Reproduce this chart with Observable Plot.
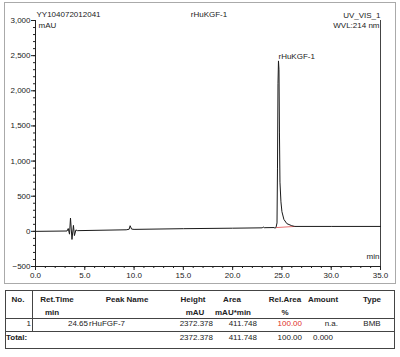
<!DOCTYPE html>
<html><head><meta charset="utf-8">
<script src="https://cdn.jsdelivr.net/npm/d3@7"></script>
<script src="https://cdn.jsdelivr.net/npm/@observablehq/plot@0.6"></script>
<style>
body{margin:0;background:#fff;font-family:"Liberation Sans",Arial,sans-serif;}
#wrap{position:relative;width:400px;height:357px;overflow:hidden;}
#box{position:absolute;left:4px;top:2px;width:390px;height:280px;border:1px solid #aaa;}
#chart{position:absolute;left:0;top:0;}
.t{position:absolute;font-size:8px;color:#222;white-space:nowrap;line-height:10px;}
.b{font-weight:bold;}
.hl{position:absolute;height:1px;background:#444;}
.vl{position:absolute;width:1px;background:#444;}
</style>
</head><body>
<div id="wrap"><div id="box"></div><div id="chart"></div><div id="table"></div></div>
<script>
// ---- chromatogram data (retention time in min, signal in mAU) ----
const timeMin   = [0, 3.2, 3.32, 3.45, 3.55, 3.7, 3.85, 3.95, 4.1, 4.25, 9.2, 9.5, 9.6, 9.75, 10.0, 15.0, 20.0, 23.0, 23.1, 23.2, 24.2, 24.3, 24.4, 24.5, 24.55, 24.6, 24.65, 24.7, 24.75, 24.8, 24.9, 25.0, 25.2, 25.5, 26.0, 26.3, 30.0, 35.0];
const signalMAU = [0, 5, 40, -40, 190, -115, 85, -60, 20, 10, 22, 30, 80, 32, 28, 38, 45, 50, 62, 52, 54, 45, 56, 120, 900, 2100, 2425, 2300, 1400, 700, 420, 280, 170, 110, 80, 70, 70, 70];
const integTime = [24.45, 26.3];
const integMAU  = [54, 70];
const peakName = "rHuKGF-1", peakTime = 24.65, peakTop = 2425;
const yMajor = [-500, 0, 500, 1000, 1500, 2000, 2500, 3000];
const yMinor = d3.range(-500, 3001, 100);
const xMajor = [0, 5, 10, 15, 20, 25, 30, 35];
const xMinor = d3.range(0, 35.01, 1);
const sampleId = "YY104072012041", sampleName = "rHuKGF-1", channel = "UV_VIS_1", wavelength = "WVL:214 nm";
const yUnit = "mAU", xUnit = "min";
// ---- table data ----
const tableCols  = ["No.", "Ret.Time", "Peak Name", "Height", "Area", "Rel.Area", "Amount", "Type"];
const tableUnits = ["", "min", "", "mAU", "mAU*min", "%", "", ""];
const row1       = ["1", "24.65", "rHuFGF-7", "2372.378", "411.748", "100.00", "n.a.", "BMB"];
const totalRow   = ["Total:", "", "", "2372.378", "411.748", "100.00", "0.000", ""];

const data = timeMin.map((t, i) => ({t, v: signalMAU[i]}));
const integ = integTime.map((t, i) => ({t, v: integMAU[i]}));

const chart = Plot.plot({
  width: 400, height: 290,
  marginLeft: 35, marginRight: 20, marginTop: 20, marginBottom: 24,
  style: {fontFamily: "Liberation Sans, Arial, sans-serif", fontSize: "8px", color: "#222", background: "transparent"},
  x: {domain: [0, 35]},
  y: {domain: [-500, 3000]},
  marks: [
    Plot.axisY({ticks: yMinor, tickSize: 2, tickFormat: () => "", label: null, stroke: "#222"}),
    Plot.axisY({ticks: yMajor, tickSize: 4, tickPadding: 1, tickFormat: d3.format(","), label: null, stroke: "#222"}),
    Plot.axisX({ticks: xMinor, tickSize: 2, tickFormat: () => "", label: null, stroke: "#222"}),
    Plot.axisX({ticks: xMajor, tickSize: 4, tickPadding: 2, tickFormat: d3.format(".1f"), label: null, stroke: "#222"}),
    Plot.ruleX([0], {stroke: "#222"}),
    Plot.ruleX([35], {stroke: "#444"}),
    Plot.ruleY([-500], {stroke: "#222"}),
    Plot.line(integ, {x: "t", y: "v", stroke: "#e87070", strokeWidth: 1}),
    Plot.line(data, {x: "t", y: "v", stroke: "#1a1a1a", strokeWidth: 1}),
    Plot.text([peakName], {x: [peakTime], y: [peakTop], text: d => d, textAnchor: "start", dy: -4, fill: "#222"}),
    Plot.text([sampleId], {frameAnchor: "top-left", dx: 1, dy: -9, text: d => d, textAnchor: "start", fill: "#222"}),
    Plot.text([sampleName], {frameAnchor: "top", dx: 1, dy: -9, text: d => d, fill: "#222"}),
    Plot.text([channel], {frameAnchor: "top-right", dy: -8, text: d => d, textAnchor: "end", fill: "#222"}),
    Plot.text([wavelength], {frameAnchor: "top-right", dy: 2, dx: -1, text: d => d, textAnchor: "end", fill: "#222"}),
    Plot.text([yUnit], {frameAnchor: "top-left", dx: 3, dy: 2, text: d => d, textAnchor: "start", fill: "#222"}),
    Plot.text([xUnit], {frameAnchor: "bottom-right", dx: -1, dy: -8, text: d => d, textAnchor: "end", fill: "#222"})
  ]
});
document.getElementById("chart").appendChild(chart);

// ---- table layout ----
const tbl = document.getElementById("table");
function line(cls, l, t, w, h) {
  const d = document.createElement("div"); d.className = cls;
  d.style.left = l + "px"; d.style.top = t + "px";
  if (w != null) d.style.width = w + "px";
  if (h != null) d.style.height = h + "px";
  tbl.appendChild(d);
}
function txt(s, x, y, anchor, bold, color) {
  if (!s) return;
  const d = document.createElement("div");
  d.className = "t" + (bold ? " b" : "");
  d.textContent = s;
  d.style.top = (y - 5) + "px";
  if (anchor === "c") { d.style.left = x + "px"; d.style.transform = "translateX(-50%)"; }
  else if (anchor === "r") { d.style.right = (400 - x) + "px"; }
  else { d.style.left = x + "px"; }
  if (color) d.style.color = color;
  tbl.appendChild(d);
}
line("hl", 5, 290, 390, 1);
line("hl", 5, 318, 390, 1);
line("hl", 5, 331, 390, 1);
line("hl", 5, 348, 390, 1);
line("vl", 5, 290, null, 59);
line("vl", 394, 290, null, 59);
line("vl", 32, 290, null, 41);

const headX = [18, 57, 127, 193, 232, 285, 323, 372];
const unitX = [18, 52, 127, 195, 233, 285, 323, 372];
const rowPos = [[31, "r"], [88, "r"], [89, "l"], [213, "r"], [257, "r"], [302, "r"], [338, "r"], [372, "c"]];
const totPos = [[6, "l"], [88, "r"], [89, "l"], [213, "r"], [257, "r"], [302, "r"], [333, "r"], [372, "c"]];
tableCols.forEach((s, i) => txt(s, headX[i], 300, "c", true));
tableUnits.forEach((s, i) => txt(s, unitX[i], 313, "c", true));
row1.forEach((s, i) => txt(s, rowPos[i][0], 324, rowPos[i][1], false, i === 5 ? "#e0302a" : null));
totalRow.forEach((s, i) => txt(s, totPos[i][0], 338, totPos[i][1], i === 0));
</script>
</body></html>
